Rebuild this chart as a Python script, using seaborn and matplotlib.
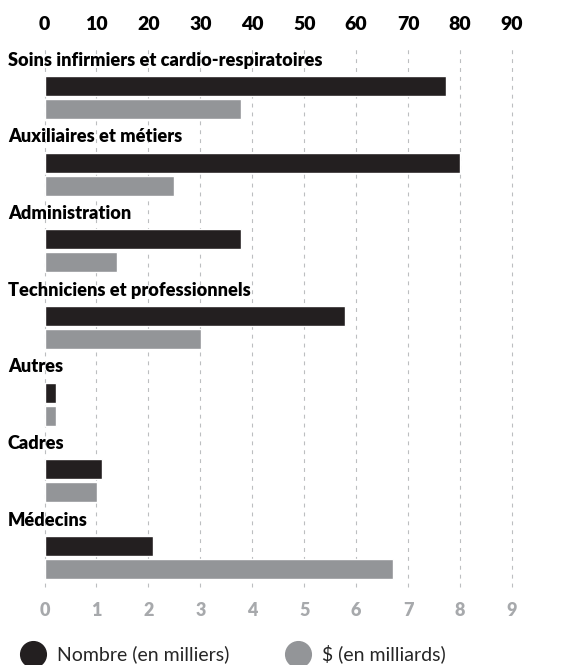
import matplotlib
matplotlib.use("Agg")
import matplotlib.pyplot as plt
from matplotlib.lines import Line2D
from matplotlib.transforms import blended_transform_factory
import pandas as pd
import seaborn as sns

# ---- data ----
categories = [
    "Soins infirmiers et cardio-respiratoires",
    "Auxiliaires et métiers",
    "Administration",
    "Techniciens et professionnels",
    "Autres",
    "Cadres",
    "Médecins",
]
nombre_milliers = [77.3, 80.0, 37.8, 57.9, 2.2, 11.0, 20.8]
dollars_milliards = [3.78, 2.49, 1.39, 3.01, 0.22, 1.01, 6.71]
series_labels = ["Nombre (en milliers)", "$ (en milliards)"]
top_ticks = list(range(0, 100, 10))
bottom_ticks = list(range(0, 10))

BLACK = "#231f20"
GREY = "#939598"
TICK_GREY = "#a7a9ac"
GRID = "#bcbec0"

sns.set_theme(style="white")
FONT = ["Lato", "DejaVu Sans"]
plt.rcParams["font.family"] = FONT
cat_size, tick_size, btick_size, leg_size = 13.1, 14, 13, 14

df_n = pd.DataFrame({"cat": categories, "val": nombre_milliers, "serie": series_labels[0]})
df_d = pd.DataFrame({"cat": categories, "val": dollars_milliards, "serie": series_labels[1]})
palette = {series_labels[0]: BLACK, series_labels[1]: GREY}

fig = plt.figure(figsize=(5.65, 6.65), dpi=100)
ax = fig.add_axes([44.5 / 565, 1 - 587 / 665, 467.5 / 565, (587 - 49) / 665])
ax2 = ax.twiny()

common = dict(y="cat", x="val", hue="serie", hue_order=series_labels, palette=palette,
              dodge=True, width=0.597, gap=0.13, errorbar=None, saturation=1,
              legend=False, orient="h")
sns.barplot(data=df_d, ax=ax, **common)
sns.barplot(data=df_n, ax=ax2, **common)

ax.set_xlim(0, 9)
ax2.set_xlim(0, 90)
ax.set_ylim(6.385, -0.633)

# dashed grid
ax.vlines(bottom_ticks, 0, 1, transform=ax.get_xaxis_transform(), colors=GRID,
          linewidth=0.8, linestyles=(0, (3.5, 4.5)), clip_on=False, zorder=0)

for a in (ax, ax2):
    for s in a.spines.values():
        s.set_visible(False)
    a.set_xlabel("")
    a.set_ylabel("")
    a.tick_params(axis="y", left=False, right=False, labelleft=False, labelright=False)

ax.set_xticks(bottom_ticks)
ax.set_xticklabels([str(t) for t in bottom_ticks], fontsize=btick_size,
                   fontweight="heavy", color=TICK_GREY)
ax.tick_params(axis="x", length=0, pad=10.5)
ax2.set_xticks(top_ticks)
ax2.set_xticklabels([str(t) for t in top_ticks], fontsize=tick_size,
                    fontweight="heavy", color="black")
ax2.tick_params(axis="x", length=0, pad=11.8)

# category labels above each bar pair
tr = blended_transform_factory(ax.transAxes, ax.transData)
for i, c in enumerate(categories):
    ax.text(-36.5 / 467.5, i - 0.415, c, transform=tr, ha="left", va="baseline",
            fontsize=cat_size, fontweight="heavy", color="black", clip_on=False)

handles = [Line2D([], [], marker="o", ls="", color=BLACK, markersize=18.5),
           Line2D([], [], marker="o", ls="", color=GREY, markersize=18.5)]
fig.legend(handles, series_labels, ncol=2, loc="center left",
           bbox_to_anchor=(20 / 565, 1 - 654 / 665), frameon=False,
           handlelength=1.3, handletextpad=0.62,
           columnspacing=2.85, borderpad=0, borderaxespad=0,
           prop={"family": FONT, "size": leg_size})

fig.savefig("out.png", dpi=100)
